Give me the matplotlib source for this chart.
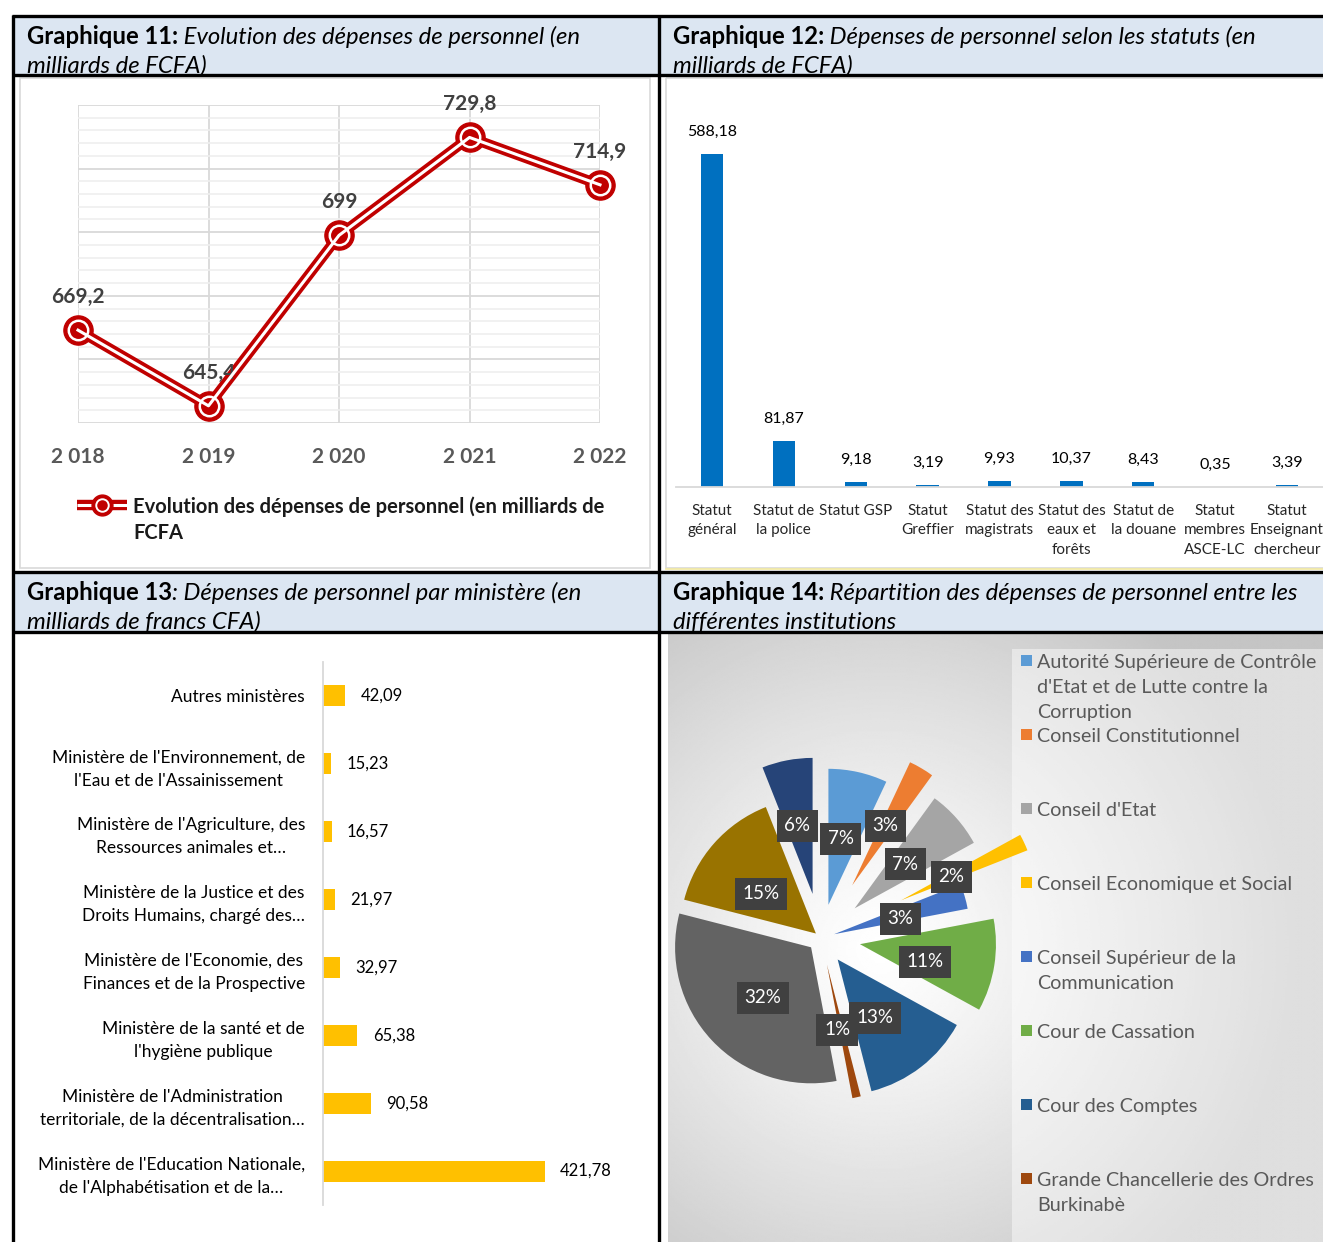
import numpy as np
import matplotlib.pyplot as plt
from matplotlib.patches import Rectangle
from matplotlib.ticker import MultipleLocator

plt.rcParams['font.family'] = ['Lato', 'DejaVu Sans']

W, H = 1323, 1242

# ---- data
years = ['2 018', '2 019', '2 020', '2 021', '2 022']
depenses = [669.2, 645.4, 699, 729.8, 714.9]

statuts = ['Statut\ngénéral', 'Statut de\nla police', 'Statut GSP', 'Statut\nGreffier',
           'Statut des\nmagistrats', 'Statut des\neaux et\nforêts', 'Statut de\nla douane',
           'Statut\nmembres\nASCE-LC', 'Statut\nEnseignant\nchercheur']
statut_vals = [588.18, 81.87, 9.18, 3.19, 9.93, 10.37, 8.43, 0.35, 3.39]

ministeres = ['Autres ministères',
              "Ministère de l'Environnement, de\nl'Eau et de l'Assainissement",
              "Ministère de l'Agriculture, des\nRessources animales et…",
              'Ministère de la Justice et des\nDroits Humains, chargé des…',
              "Ministère de l'Economie, des\nFinances et de la Prospective",
              'Ministère de la santé et de\nl\'hygiène publique',
              "Ministère de l'Administration\nterritoriale, de la décentralisation…",
              "Ministère de l'Education Nationale,\nde l'Alphabétisation et de la…"]
ministere_vals = [42.09, 15.23, 16.57, 21.97, 32.97, 65.38, 90.58, 421.78]

institutions = ["Autorité Supérieure de Contrôle\nd'Etat et de Lutte contre la\nCorruption",
                'Conseil Constitutionnel', "Conseil d'Etat", 'Conseil Economique et Social',
                'Conseil Supérieur de la\nCommunication', 'Cour de Cassation',
                'Cour des Comptes', 'Grande Chancellerie des Ordres\nBurkinabè']
inst_share = [7, 3, 7, 2, 3, 11, 13, 1, 32, 15, 6]
inst_colors = ['#5B9BD5', '#ED7D31', '#A5A5A5', '#FFC000', '#4472C4', '#70AD47',
               '#255E91', '#9E480E', '#636363', '#997300', '#264478']

# layout of the exploded pie (fractions of radius)
explode = [0.25, 0.45, 0.33, 0.65, 0.10, 0.29, 0.20, 0.20, 0.10, 0.05, 0.33]
pct_xy = [(0.147, 0.728), (0.471, 0.824), (0.618, 0.544), (0.956, 0.449), (0.581, 0.140),
          (0.765, -0.176), (0.397, -0.588), (0.118, -0.676), (-0.426, -0.441),
          (-0.441, 0.324), (-0.173, 0.824)]


def fmt(v):
    return str(v).replace('.', ',')


fig = plt.figure(figsize=(W / 100, H / 100), dpi=100)


def px_axes(x0, y0, x1, y1):
    a = fig.add_axes([x0 / W, 1 - y1 / H, (x1 - x0) / W, (y1 - y0) / H])
    a.set_facecolor('none')
    return a


RED = '#C00000'

# ---- Graphique 11 : line chart
ax1 = px_axes(78, 105, 600, 423)
xs = np.arange(len(years))
ax1.plot(xs, depenses, color=RED, lw=7.5, marker='o', ms=21, mfc=RED, mec=RED,
         clip_on=False, zorder=3)
ax1.plot(xs, depenses, color='white', lw=2.2, marker='o', ms=14, mfc='none', mec='white',
         mew=1.8, clip_on=False, zorder=4)
for x, v in zip(xs, depenses):
    ax1.annotate(fmt(v), (x, v), xytext=(0, 24), textcoords='offset points', ha='center',
                 va='center', fontsize=15, fontweight='bold', color='#404040')
ax1.set_xlim(0, 4)
ax1.set_ylim(640, 740)
ax1.yaxis.set_major_locator(MultipleLocator(20))
ax1.yaxis.set_minor_locator(MultipleLocator(4))
ax1.set_xticks(xs)
ax1.set_xticklabels(years, fontsize=15, fontweight='bold', color='#595959')
ax1.tick_params(axis='x', length=0, pad=17)
ax1.tick_params(axis='y', which='both', length=0, labelleft=False)
ax1.grid(which='major', color='#D9D9D9', lw=1.3)
ax1.grid(which='minor', axis='y', color='#EFEFEF', lw=1.2)
ax1.set_axisbelow(True)
for s in ax1.spines.values():
    s.set_visible(False)

# ---- Graphique 12 : bar chart by statut
ax2 = px_axes(676, 119, 1323, 487)
x2 = np.arange(len(statuts))
ax2.bar(x2, statut_vals, width=0.31, color='#0070C0')
for x, v in zip(x2, statut_vals):
    ax2.annotate(fmt(v), (x, v), xytext=(0, 16), textcoords='offset points', ha='center',
                 va='center', fontsize=11.5, color='black')
ax2.set_xlim(-0.5, 8.5)
ax2.set_ylim(0, 650)
ax2.set_xticks(x2)
ax2.set_xticklabels(statuts, fontsize=11, color='#262626', va='top')
for t in ax2.get_xticklabels():
    t.set_linespacing(1.5)
ax2.tick_params(axis='x', length=0, pad=12)
ax2.set_yticks([])
for k in ['top', 'right', 'left']:
    ax2.spines[k].set_visible(False)
ax2.spines['bottom'].set_color('#D9D9D9')
ax2.spines['bottom'].set_linewidth(1.3)

# ---- Graphique 13 : horizontal bars by ministry
ax3 = px_axes(323, 662, 640, 1205)
y3 = np.arange(len(ministeres))
ax3.barh(y3, ministere_vals, height=0.31, color='#FFC000')
for y, v in zip(y3, ministere_vals):
    ax3.annotate(fmt(v), (v, y), xytext=(11, 0), textcoords='offset points', ha='left',
                 va='center', fontsize=12, color='black')
ax3.set_ylim(7.5, -0.5)
ax3.set_xlim(0, 603)
ax3.set_yticks(y3)
ax3.set_yticklabels(ministeres, fontsize=12.5, color='black')
for t in ax3.get_yticklabels():
    t.set_multialignment('center')
    t.set_linespacing(1.56)
ax3.tick_params(axis='y', length=0, pad=13)
ax3.set_xticks([])
for k in ['top', 'right', 'bottom']:
    ax3.spines[k].set_visible(False)
ax3.spines['left'].set_color('#D9D9D9')
ax3.spines['left'].set_linewidth(1.3)

# ---- Graphique 14 : exploded pie
R = 136.0
cx, cy = 821, 938
ax4 = px_axes(668, 634, 1323, 1242)
xl = ((668 - cx) / R, (1323 - cx) / R)
yl = ((cy - 1242) / R, (cy - 634) / R)
gx = np.linspace(668, 1323, 400)
gy = np.linspace(634, 1242, 380)
GX, GY = np.meshgrid(gx, gy)
d = np.hypot(GX - 880, GY - 950)
shade = 1 - 0.23 * np.clip(d / 420, 0, 1) ** 1.2
ax4.imshow(shade, extent=(xl[0], xl[1], yl[0], yl[1]), origin='upper', cmap='gray',
           vmin=0, vmax=1, aspect='auto', zorder=0, interpolation='bilinear')
ax4.add_patch(Rectangle(((1012 - cx) / R, yl[0]), (1323 - 1012) / R, (cy - 649 - yl[0] * R) / R,
                        facecolor='white', alpha=0.45, lw=0, zorder=1))
wedges, _ = ax4.pie(inst_share, colors=inst_colors, startangle=90, counterclock=False,
                    explode=explode, radius=1, center=(0, 0), frame=True,
                    wedgeprops=dict(linewidth=0, zorder=2))
for v, (px, py) in zip(inst_share, pct_xy):
    ax4.text(px, py, f'{v}%', ha='center', va='center', fontsize=13.5, color='white', zorder=5,
             bbox=dict(boxstyle='square,pad=0.4', fc='#404040', ec='none'))
ax4.set_xlim(*xl)
ax4.set_ylim(*yl)
ax4.set_axis_off()

# ---- overlay: table frame, headers, legends (pixel coordinates)
ov = px_axes(0, 0, W, H)
ov.set_xlim(0, W)
ov.set_ylim(H, 0)
ov.set_axis_off()
ov.set_zorder(5)

headers = [
    (13, 17, 646, 57, 'Graphique 11:', ' Evolution des dépenses de personnel (en', 'milliards de FCFA)'),
    (659, 17, 664, 57, 'Graphique 12:', ' Dépenses de personnel selon les statuts (en', 'milliards de FCFA)'),
    (13, 573, 646, 58, 'Graphique 13', ': Dépenses de personnel par ministère (en', 'milliards de francs CFA)'),
    (659, 573, 664, 58, 'Graphique 14:', ' Répartition des dépenses de personnel entre les', 'différentes institutions'),
]
for (x0, y0, w, h, bold, ital, line2) in headers:
    r = Rectangle((x0, y0), w, h, facecolor='#DCE6F2', edgecolor='none', zorder=0)
    ov.add_patch(r)
    t = ov.text(x0 + 14, y0 + 27, bold, fontsize=17.2, fontweight='bold', color='black',
                va='baseline', zorder=2)
    t2 = ov.annotate(ital, xy=(1, 0), xycoords=t, fontsize=17.2, fontstyle='italic',
                     color='black', va='bottom', zorder=2)
    t3 = ov.text(x0 + 14, y0 + 56, line2, fontsize=17.2, fontstyle='italic', color='black',
                 va='baseline', zorder=2)
    for tt in (t, t2, t3):
        tt.set_clip_path(r)

lk = dict(color='black', lw=2.4, solid_capstyle='butt', zorder=3)
for yy in (16, 75, 572, 632):
    ov.plot([12, W], [yy, yy], **lk)
for xx in (13, 659):
    ov.plot([xx, xx], [15, H], **lk)

# inner chart frames
ov.add_patch(Rectangle((20, 78), 630, 490, fill=False, ec='#D9D9D9', lw=1.2))
ov.add_patch(Rectangle((666, 78), 700, 490, fill=False, ec='#D9D9D9', lw=1.2))
ov.plot([666, W], [569, 569], color='#F2E9A0', lw=1.2)

# legend of Graphique 11
ov.plot([77, 127], [505, 505], color=RED, lw=7.5, solid_capstyle='butt')
ov.plot([77, 127], [505, 505], color='white', lw=2.2, solid_capstyle='butt')
ov.plot([102], [505], marker='o', ms=15, mfc=RED, mec=RED)
ov.plot([102], [505], marker='o', ms=9, mfc='none', mec='white', mew=1.4)
ov.text(133, 496, 'Evolution des dépenses de personnel (en milliards de\nFCFA', fontsize=14.5,
        fontweight='bold', color='#1a1a1a', va='top', linespacing=1.42)

# legend of Graphique 14
for i, (name, col) in enumerate(zip(institutions, inst_colors)):
    yy = 661 + 74 * i
    ov.add_patch(Rectangle((1021, yy - 6), 11, 11, facecolor=col, edgecolor='none'))
    ov.text(1037, yy - 7, name, fontsize=14.2, color='#595959', va='top', linespacing=1.57)

fig.savefig('out.png', dpi=100)
